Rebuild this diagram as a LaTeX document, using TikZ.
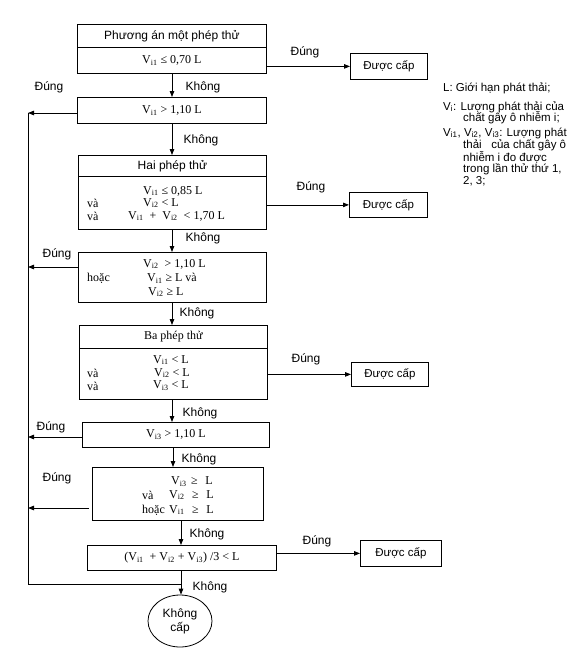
\documentclass[tikz,border=0pt]{standalone}
\usepackage{fontspec}
\setmainfont{Liberation Serif}
\setsansfont{Liberation Sans}
\usetikzlibrary{arrows.meta,shapes.geometric}
\newcommand\Vv[1]{V\textsubscript{#1}}
\begin{document}
\begin{tikzpicture}[x=1pt,y=-1pt,
  box/.style={draw,line width=0.8pt,inner sep=0pt,anchor=north west},
  sf/.style={font=\sffamily\fontsize{12}{14}\selectfont},
  rm/.style={font=\rmfamily\fontsize{12}{14}\selectfont},
  txt/.style={rm,inner sep=0pt,anchor=west},
  lab/.style={sf,inner sep=0pt},
  leg/.style={font=\sffamily\fontsize{11.5}{13}\selectfont,inner sep=0pt,anchor=west},
  arr/.style={line width=0.8pt,-{Triangle[length=6pt,width=4.5pt]}},
  ln/.style={line width=0.8pt}]
\useasboundingbox (0,0) rectangle (576,653);
% main column coordinates
\coordinate (cA) at (172,0);
\coordinate (cB) at (181,0);
% left arrows targets
\coordinate (a2) at (28,113);
\coordinate (a4) at (28,267);
\coordinate (a6) at (28,437);
\coordinate (a7) at (28,508);
\coordinate (a9) at (28,584);
% boxes
\node[box,sf,minimum width=189pt,minimum height=23pt] (b1t) at (77,24) {Phương án một phép thử};
\node[box,rm,minimum width=189pt,minimum height=26pt] (b1) at (77,47) {\Vv{i1} ≤ 0,70 L};
\node[box,sf,font=\sffamily\fontsize{11.5}{13}\selectfont,minimum width=77pt,minimum height=26pt] (d1) at (350,53) {Được cấp};
\node[box,rm,minimum width=189pt,minimum height=26pt] (b2) at (77,97) {\Vv{i1} > 1,10 L};
\node[box,sf,minimum width=188pt,minimum height=21pt] (b3t) at (78,155) {Hai phép thử};
\node[box,minimum width=188pt,minimum height=53pt] (b3) at (78,176) {};
\node[box,sf,font=\sffamily\fontsize{11.5}{13}\selectfont,minimum width=78pt,minimum height=25pt] (d2) at (349,192) {Được cấp};
\node[box,minimum width=188pt,minimum height=50pt] (b4) at (78,252) {};
\node[box,rm,minimum width=188pt,minimum height=23pt] (b5t) at (79,325) {Ba phép thử};
\node[box,minimum width=188pt,minimum height=51pt] (b5) at (79,348) {};
\node[box,sf,font=\sffamily\fontsize{11.5}{13}\selectfont,minimum width=77pt,minimum height=24pt] (d3) at (351,362) {Được cấp};
\node[box,rm,minimum width=187pt,minimum height=25pt] (b6) at (82,422) {\Vv{i3} >\ 1,10 L};
\node[box,minimum width=171pt,minimum height=53pt] (b7) at (92,467) {};
\node[box,rm,minimum width=189pt,minimum height=25pt] (b8) at (87,545) {(\Vv{i1}\ \ +\ \Vv{i2}\ +\ \Vv{i3}) /3 < L};
\node[box,sf,font=\sffamily\fontsize{11.5}{13}\selectfont,minimum width=81pt,minimum height=26pt] (d4) at (360,540) {Được cấp};
\node[draw,line width=0.8pt,ellipse,sf,inner sep=0pt,minimum width=64pt,minimum height=52pt,align=center] (e) at (180,621) {Không\\cấp};
% texts in b3
\node[txt] (t31) at (143,191) {\Vv{i1} ≤ 0,85 L};
\node[txt] (t32a) at (87,203) {và};
\node[txt] (t32) at (143,203) {\Vv{i2} <\ L};
\node[txt] (t33a) at (87,216) {và};
\node[txt] (t33) at (128,216) {\Vv{i1}\ \ +\ \ \Vv{i2}\ \ < 1,70 L};
% texts in b4
\node[txt] (t41) at (143,264) {\Vv{i2}\ \ > 1,10 L};
\node[txt] (t42a) at (87,278) {hoặc};
\node[txt] (t42) at (147,278) {\Vv{i1}\ ≥\ L và};
\node[txt] (t43) at (148,292) {\Vv{i2}\ ≥\ L};
% texts in b5
\node[txt] (t51) at (153,360) {\Vv{i1} <\ L};
\node[txt] (t52a) at (87,373) {và};
\node[txt] (t52) at (154,373) {\Vv{i2} < L};
\node[txt] (t53a) at (87,386) {và};
\node[txt] (t53) at (153,386) {\Vv{i3}\ <\ L};
% texts in b7
\node[txt] (t71) at (171,482) {\makebox[20pt][l]{\Vv{i3}}≥\makebox[15pt][r]{L}};
\node[txt] (t72a) at (142,495) {và};
\node[txt] (t72) at (169,495) {\makebox[23pt][l]{\Vv{i2}}≥\makebox[15pt][r]{L}};
\node[txt] (t73a) at (142,510) {hoặc};
\node[txt] (t73) at (169,510) {\makebox[23pt][l]{\Vv{i1}}≥\makebox[15pt][r]{L}};
% main column arrows
\draw[arr] (b1.south -| cA) -- (b2.north -| cA);
\draw[arr] (b2.south -| cA) -- (b3t.north -| cA);
\draw[arr] (b3.south -| cA) -- (b4.north -| cA);
\draw[arr] (b4.south -| cA) -- (b5t.north -| cA);
\draw[arr] (b5.south -| cA) -- (b6.north -| cA);
\draw[arr] ([xshift=1pt]b6.south -| cA) -- ([xshift=1pt]b7.north -| cA);
\draw[arr] (b7.south -| cB) -- (b8.north -| cB);
\draw[arr] (b8.south -| cB) -- (e.north -| cB);
% right arrows
\draw[arr] (d1.west -| b1.east) -- (d1.west);
\draw[arr] (d2.west -| b3.east) -- (d2.west);
\draw[arr] (d3.west -| b5.east) -- (d3.west);
\draw[arr] (d4.west -| b8.east) -- (d4.west);
% left arrows
\draw[arr] (a2 -| b2.west) -- (a2);
\draw[arr] (a4 -| b4.west) -- (a4);
\draw[arr] (a6 -| b6.west) -- (a6);
\draw[arr] ([xshift=-3pt]a7 -| b7.west) -- (a7);
\draw[ln] (a2) -- (a9) -- (a9 -| cB);
% labels
\node[lab] (j1) at (305,52) {Đúng};
\node[lab] (j2) at (311,187) {Đúng};
\node[lab] (j3) at (306,359) {Đúng};
\node[lab] (j4) at (317,541) {Đúng};
\node[lab] (jl2) at (49,87) {Đúng};
\node[lab] (jl4) at (57,254) {Đúng};
\node[lab] (jl6) at (51,427) {Đúng};
\node[lab] (jl7) at (57,478) {Đúng};
\node[lab] (k1) at (203,87) {Không};
\node[lab] (k2) at (201,140) {Không};
\node[lab] (k3) at (203,238) {Không};
\node[lab] (k4) at (197,313) {Không};
\node[lab] (k5) at (200,413) {Không};
\node[lab] (k6) at (199,459) {Không};
\node[lab] (k7) at (207,534) {Không};
\node[lab] (k8) at (210,587) {Không};
% legend
\node[leg] (g1) at (443,88) {L: Giới hạn phát thải;};
\node[leg] (g2) at (443,107) {\Vv{i}: Lượng phát thải của};
\node[leg] (g3) at (463,118) {chất gây ô nhiễm i;};
\node[leg] (g4) at (443,133) {\Vv{i1}, \Vv{i2}, \Vv{i3}: Lượng phát};
\node[leg] (g5) at (463,145) {thải\ \ \ của chất gây ô};
\node[leg] (g6) at (463,157) {nhiễm i đo được};
\node[leg] (g7) at (463,169) {trong lần thử thứ 1,};
\node[leg] (g8) at (463,181) {2, 3;};
\end{tikzpicture}
\end{document}
